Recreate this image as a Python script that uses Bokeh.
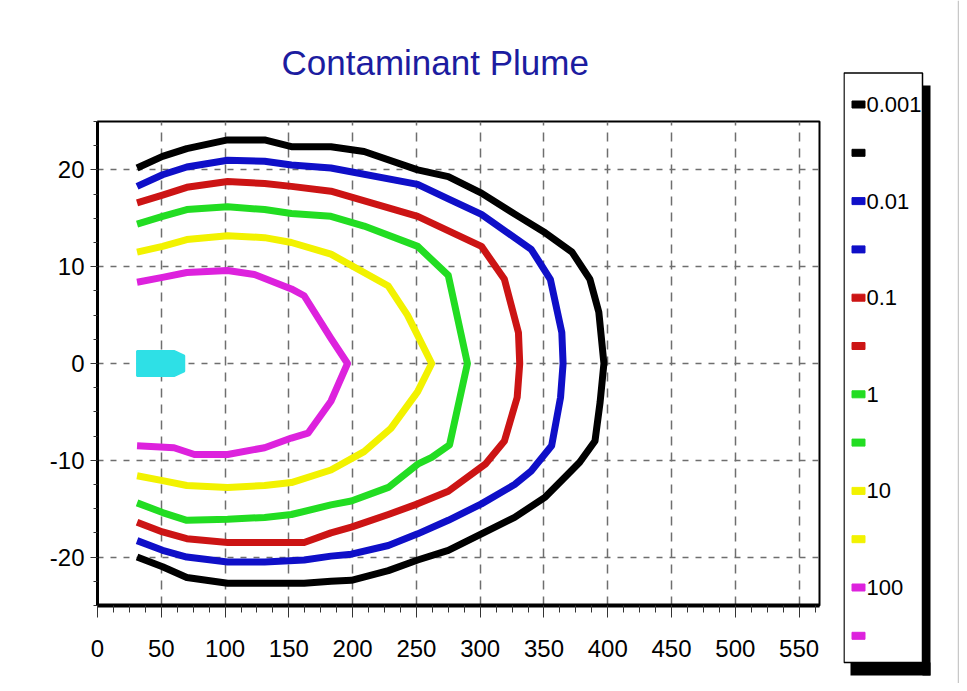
from bokeh.plotting import figure
from bokeh.layouts import row
from bokeh.models import Range1d, SingleIntervalTicker, ColumnDataSource, PrintfTickFormatter
from bokeh.core.properties import value
from bokeh.embed import file_html
from bokeh.resources import INLINE

FONT = "Liberation Sans"

# ---------------- data ----------------
title_text = "Contaminant Plume"
levels = ["0.001", "0.01", "0.1", "1", "10", "100"]
level_colors = ["#000000", "#0f0fc8", "#cc1414", "#22dd22", "#f2f200", "#dd22dd"]
source_color = "#2ee0e6"

x_ticks_interval = 50
y_ticks_interval = 10

# contour 0.001 (black)
c0001_x = [31, 51, 70, 102, 131, 152, 183, 209, 251, 275, 301, 330, 351, 372, 386, 393, 397,
           394, 390, 378, 366, 351, 327, 301, 275, 251, 228, 199, 183, 162, 131, 102, 70, 51, 31]
c0001_y = [20.2, 21.4, 22.2, 23.1, 23.1, 22.4, 22.4, 21.9, 20.0, 19.3, 17.6, 15.2, 13.5, 11.5, 8.7, 5.3, 0.0,
           -4.0, -8.0, -10.2, -11.8, -13.8, -15.9, -17.6, -19.3, -20.3, -21.4, -22.4, -22.5, -22.7, -22.7, -22.7, -22.1, -21.0, -20.0]
# contour 0.01 (blue)
c001_x = [31, 51, 70, 102, 131, 152, 183, 251, 275, 301, 340, 355, 364, 365,
          363, 356, 340, 327, 301, 275, 251, 228, 199, 183, 162, 131, 102, 70, 51, 31]
c001_y = [18.3, 19.5, 20.3, 21.0, 20.9, 20.5, 20.2, 18.5, 17.0, 15.4, 11.8, 8.7, 3.2, 0.0,
          -3.5, -8.5, -11.1, -12.5, -14.5, -16.2, -17.6, -18.8, -19.7, -19.9, -20.3, -20.5, -20.5, -20.0, -19.3, -18.3]
# contour 0.1 (red)
c01_x = [31, 51, 70, 102, 131, 152, 183, 251, 301, 319, 330, 331,
         329, 319, 304, 275, 251, 228, 199, 183, 162, 131, 102, 70, 51, 31]
c01_y = [16.6, 17.4, 18.2, 18.8, 18.6, 18.3, 17.8, 15.2, 12.1, 8.7, 3.2, 0.0,
         -3.5, -8.0, -10.4, -13.2, -14.5, -15.6, -16.9, -17.5, -18.5, -18.5, -18.5, -18.1, -17.4, -16.4]
# contour 1 (green)
c1_x = [31, 51, 70, 102, 131, 152, 183, 209, 251, 275, 290,
        276, 262, 251, 228, 199, 183, 152, 131, 102, 70, 51, 31]
c1_y = [14.4, 15.2, 15.9, 16.2, 15.9, 15.5, 15.2, 14.2, 12.1, 9.1, 0.0,
        -8.4, -9.7, -10.4, -12.8, -14.2, -14.6, -15.6, -15.9, -16.1, -16.2, -15.4, -14.4]
# contour 10 (yellow)
c10_x = [31, 51, 70, 102, 131, 152, 183, 228, 243, 262,
         251, 230, 209, 183, 152, 131, 102, 70, 51, 31]
c10_y = [11.5, 12.1, 12.8, 13.2, 13.0, 12.5, 11.3, 8.0, 5.0, 0.0,
         -2.9, -6.7, -9.1, -11.0, -12.3, -12.6, -12.8, -12.6, -12.1, -11.6]
# contour 100 (magenta)
c100_x = [31, 51, 70, 102, 123, 152, 162, 183, 196,
          183, 165, 152, 131, 102, 76, 60, 31]
c100_y = [8.4, 8.9, 9.4, 9.6, 9.2, 7.7, 7.0, 2.6, 0.0,
          -3.9, -7.2, -7.7, -8.7, -9.4, -9.4, -8.7, -8.5]
# source area (cyan)
src_x = [31, 60, 68, 68, 60, 31]
src_y = [1.3, 1.3, 0.8, -0.8, -1.3, -1.3]

contours_x = [c0001_x, c001_x, c01_x, c1_x, c10_x, c100_x]
contours_y = [c0001_y, c001_y, c01_y, c1_y, c10_y, c100_y]

# ---------------- main plot ----------------
p = figure(width=843, height=683, x_range=Range1d(0, 566), y_range=Range1d(-25, 25),
           output_backend="svg", toolbar_location=None,
           min_border_left=97, min_border_right=24, min_border_top=120, min_border_bottom=78,
           background_fill_color="white", border_fill_color="white")
p.frame_align = False

p.title.text = title_text
p.title.align = "left"
p.title.offset = 184
p.title.standoff = 80
p.title.vertical_align = "bottom"
p.title.text_font = FONT
p.title.text_font_size = "35px"
p.title.text_font_style = "normal"
p.title.text_color = "#1c1ca0"

xt = SingleIntervalTicker(interval=x_ticks_interval, num_minor_ticks=4)
yt = SingleIntervalTicker(interval=y_ticks_interval, num_minor_ticks=4)
p.xaxis[0].ticker = xt
p.yaxis[0].ticker = yt
p.xgrid[0].ticker = xt
p.ygrid[0].ticker = yt
p.xaxis[0].formatter = PrintfTickFormatter(format="%d")
p.yaxis[0].formatter = PrintfTickFormatter(format="%d")

p.outline_line_color = "black"
p.outline_line_width = 2
for ax in (p.xaxis[0], p.yaxis[0]):
    ax.axis_line_color = "black"
    ax.major_tick_line_color = "#333333"
    ax.minor_tick_line_color = "#333333"
    ax.major_tick_in = 0
    ax.minor_tick_in = 0
    ax.major_label_text_font = FONT
    ax.major_label_text_font_size = "24px"
    ax.major_label_text_color = "black"
p.xaxis[0].axis_line_width = 4
p.yaxis[0].axis_line_width = 3
p.xaxis[0].major_tick_out = 12
p.xaxis[0].minor_tick_out = 7
p.yaxis[0].major_tick_out = 7
p.yaxis[0].minor_tick_out = 4
p.xaxis[0].major_label_standoff = 22
p.yaxis[0].major_label_standoff = 6

p.xgrid.grid_line_color = "#6e6e6e"
p.xgrid.grid_line_dash = "9 7"
p.xgrid.grid_line_width = 1.5
p.ygrid.grid_line_color = "#6e6e6e"
p.ygrid.grid_line_dash = "6 7"
p.ygrid.grid_line_width = 1.5

for cx, cy, col in zip(contours_x, contours_y, level_colors):
    p.line(cx, cy, line_color=col, line_width=7, line_join="round")

p.patch(src_x, src_y, fill_color=source_color, line_color=source_color, line_width=2)

# ---------------- legend (separate panel) ----------------
lg = figure(width=116, height=683, x_range=Range1d(0, 116), y_range=Range1d(683, 0),
            output_backend="svg", toolbar_location=None,
            x_axis_location=None, y_axis_location=None,
            min_border=0, outline_line_color=None,
            background_fill_color="white", border_fill_color="white")
lg.frame_align = False
lg.grid.visible = False

# shadow (right bar and bottom bar) and box
lg.quad(left=[79, 7], right=[87, 87], top=[85, 662], bottom=[675, 675],
        fill_color="black", line_color=None)
lg.quad(left=[0.5], right=[79], top=[72.5], bottom=[662], fill_color="white",
        line_color="black", line_width=1.5)
# image border line
lg.segment(x0=[115], y0=[0], x1=[115], y1=[683], line_color="#c8c8c8", line_width=1.5)

entry_labels, entry_colors = [], []
for lab, col in zip(levels, level_colors):
    entry_labels += [lab, ""]
    entry_colors += [col, col]
entry_y = [104 + 48.3 * i for i in range(len(entry_labels))]

lsrc = ColumnDataSource(dict(y=entry_y, label=entry_labels, color=entry_colors,
                             x=[15] * len(entry_y), tx=[23] * len(entry_y)))
lg.rect(x="x", y="y", width=13, height=7, fill_color="color", line_color="color", source=lsrc)
lg.text(x="tx", y="y", text="label", source=lsrc, text_font=value(FONT), text_font_size="22px",
        text_color="black", text_align="left", text_baseline="middle")

layout = row(p, lg)

open("out.html", "w").write(file_html(layout, INLINE))
